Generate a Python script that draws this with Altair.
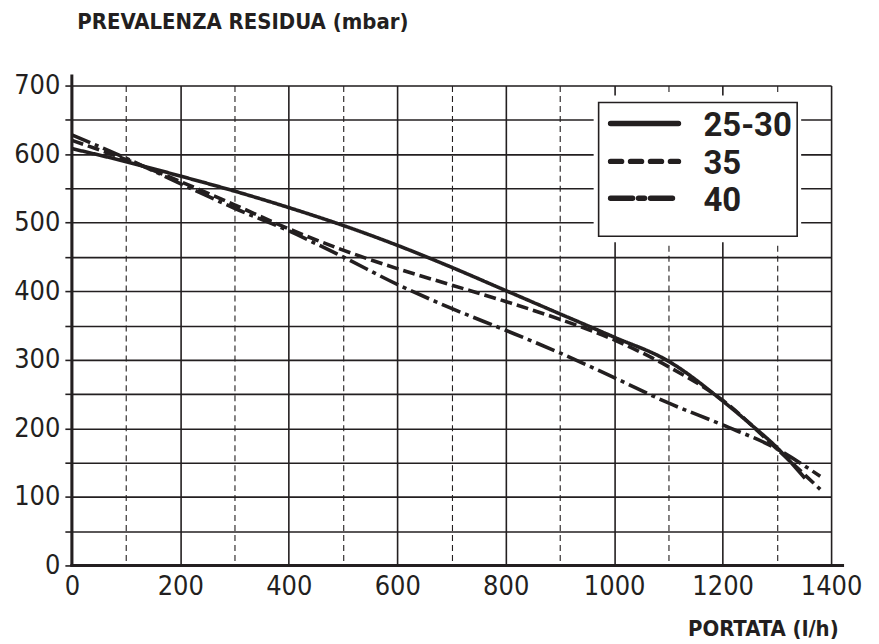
import altair as alt
import pandas as pd

# ---- data ----
series_names = ["25-30", "35", "40"]

flow_2530 = [0, 100, 200, 300, 400, 500, 600, 700, 800, 900, 1000, 1100, 1200, 1250, 1300, 1352]
head_2530 = [608, 589, 568, 546, 522, 496, 467, 435, 401, 367, 333, 298, 240, 207, 172, 127]

flow_35 = [0, 100, 200, 300, 400, 500, 600, 700, 800, 900, 1000, 1100, 1200, 1300, 1380]
head_35 = [620, 592, 560, 526, 491, 460, 433, 409, 385, 359, 329, 290, 241, 170, 111]

flow_40 = [0, 100, 200, 300, 400, 500, 600, 700, 800, 900, 1000, 1100, 1200, 1300, 1380]
head_40 = [628, 594, 557, 521, 488, 450, 410, 375, 343, 310, 274, 237, 205, 170, 130]

x_ticks = list(range(0, 1401, 100))
y_ticks = list(range(0, 701, 50))

x_title = "PORTATA (l/h)"
y_title = "PREVALENZA RESIDUA (mbar)"

# ---- styling ----
INK = "#231f20"
W, H = 761, 481
NUM_FONT = "DejaVu Sans Condensed"
TITLE_FONT = "DejaVu Sans Condensed"
LEG_FONT = "Roboto"
curve_dash = [[1, 0], [12, 5], [20, 5, 4, 5]]
legend_dash = [[1, 0], [11, 9], [22, 6, 6, 6]]

frames = []
for name, xs, ys in [(series_names[0], flow_2530, head_2530),
                     (series_names[1], flow_35, head_35),
                     (series_names[2], flow_40, head_40)]:
    frames.append(pd.DataFrame({"flow": xs, "head": ys, "series": name}))
df = pd.concat(frames, ignore_index=True)

x_enc = alt.X(
    "flow:Q",
    scale=alt.Scale(domain=[0, 1400], nice=False, zero=False),
    axis=alt.Axis(
        values=x_ticks,
        labelExpr="datum.value % 200 == 0 ? datum.label : ''",
        format="d",
        labelFlush=False,
        labelOverlap=False,
        grid=True,
        gridColor=INK,
        gridOpacity=1,
        gridWidth=alt.condition("datum.value % 200 == 100", alt.value(1.1), alt.value(1.6)),
        gridDash=alt.condition("datum.value % 200 == 100", alt.value([6, 4]), alt.value([])),
        domain=False,
        ticks=False,
        labelFont=NUM_FONT,
        labelFontSize=27,
        labelColor=INK,
        labelPadding=8,
        title=x_title,
        titleFont=TITLE_FONT,
        titleFontSize=22,
        titleFontWeight="bold",
        titleColor=INK,
        titleAngle=0,
        titleAlign="left",
        titleBaseline="alphabetic",
        titleX=617,
        titleY=70,
    ),
)

y_enc = alt.Y(
    "head:Q",
    scale=alt.Scale(domain=[0, 700], nice=False, zero=False),
    axis=alt.Axis(
        values=y_ticks,
        labelExpr="datum.value % 100 == 0 ? datum.label : ''",
        format="d",
        labelFlush=False,
        labelOverlap=False,
        grid=True,
        gridColor=INK,
        gridOpacity=1,
        gridWidth=1.6,
        domain=False,
        ticks=True,
        tickSize=7,
        tickWidth=1.6,
        tickColor=INK,
        labelFont=NUM_FONT,
        labelFontSize=27,
        labelColor=INK,
        labelPadding=5,
        title=y_title,
        titleFont=TITLE_FONT,
        titleFontSize=22,
        titleFontWeight="bold",
        titleColor=INK,
        titleAngle=0,
        titleAlign="left",
        titleBaseline="alphabetic",
        titleX=5,
        titleY=-57,
    ),
)

lines = alt.Chart(df).mark_line(strokeWidth=3.6, color=INK, interpolate="monotone", clip=True).encode(
    x=x_enc,
    y=y_enc,
    strokeDash=alt.StrokeDash("series:N",
                              scale=alt.Scale(domain=series_names, range=curve_dash),
                              legend=None),
    detail="series:N",
)

one = pd.DataFrame({"k": [0]})

# axis lines (slightly overshooting like the original)
y_axis_line = alt.Chart(one).mark_rule(color=INK, strokeWidth=3).encode(
    x=alt.value(0), y=alt.value(-11), y2=alt.value(H + 1))
x_axis_line = alt.Chart(one).mark_rule(color=INK, strokeWidth=3).encode(
    x=alt.value(-1.5), x2=alt.value(W + 13), y=alt.value(H))

# legend box
LX0, LX1, LY0, LY1 = 528, 727, 17, 151
leg_clear = alt.Chart(one).mark_rect(color="white").encode(
    x=alt.value(LX0 - 5), x2=alt.value(LX1 + 4), y=alt.value(LY0 - 7), y2=alt.value(LY1 + 6))
leg_box = alt.Chart(one).mark_rect(fill="white", stroke=INK, strokeWidth=1.6).encode(
    x=alt.value(LX0), x2=alt.value(LX1), y=alt.value(LY0), y2=alt.value(LY1))

legend_layers = [leg_clear, leg_box]
row_y = [38, 76, 113]
for i, name in enumerate(series_names):
    legend_layers.append(
        alt.Chart(one).mark_rule(color=INK, strokeWidth=5.5, strokeCap="round",
                                 strokeDash=legend_dash[i]).encode(
            x=alt.value(LX0 + 12), x2=alt.value(LX0 + 80), y=alt.value(row_y[i]))
    )
    legend_layers.append(
        alt.Chart(one).mark_text(align="left", baseline="alphabetic", font=LEG_FONT,
                                 fontSize=33, fontWeight="bold", color=INK).encode(
            x=alt.value(LX0 + 105), y=alt.value(row_y[i] + 13), text=alt.value(name))
    )

chart = alt.layer(lines, *legend_layers, y_axis_line, x_axis_line).properties(
    width=W,
    height=H,
    autosize=alt.AutoSizeParams(type="none"),
    padding={"left": 64, "top": 77, "right": 40, "bottom": 74},
).configure_view(stroke=None).configure(background="white")

chart.save("out.html", embed_options={"renderer": "svg", "actions": False})
